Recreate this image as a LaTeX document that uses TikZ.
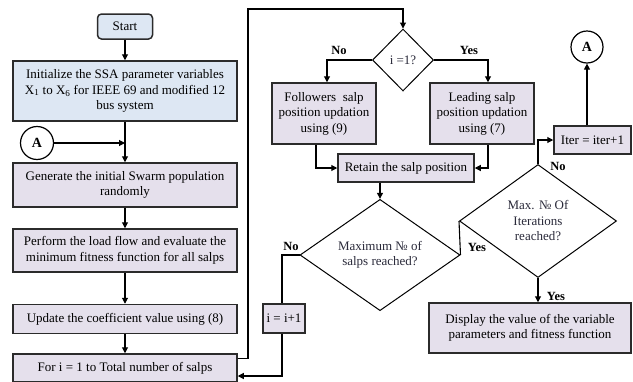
\documentclass[tikz,border=0pt]{standalone}
\usepackage{fontspec}
\setmainfont{Liberation Serif}
\usetikzlibrary{shapes.geometric,arrows.meta}
\definecolor{bluefill}{HTML}{DDE7F3}
\definecolor{lavfill}{HTML}{E5E0EC}
\definecolor{edge}{HTML}{2B2B2B}
\definecolor{diatext}{HTML}{2A2A3A}
\begin{document}
\begin{tikzpicture}[x=1pt,y=-1pt,
  font=\fontsize{13}{15.5}\selectfont,
  box/.style={draw=edge, line width=1.5pt, fill=lavfill, align=center, inner sep=0pt},
  bbox/.style={box, fill=bluefill},
  dia/.style={diamond, draw=black, line width=1pt, fill=white, align=center, inner sep=0pt, text=diatext},
  conn/.style={draw=black, line width=1.2pt, fill=white},
  arr/.style={line width=1.1pt, -{Triangle[length=6pt,width=6pt]}},
  ln/.style={line width=1.1pt},
  lbl/.style={font=\fontsize{12.5}{13}\selectfont\bfseries, inner sep=0pt}]
\useasboundingbox (0,0) rectangle (633,381);

% left column
\node[bbox, rounded corners=4pt, minimum width=55pt, minimum height=25pt] (start) at (125,26.5) {Start};
\node[bbox, minimum width=224pt, minimum height=60pt] (init) at (125,91)
  {Initialize the SSA parameter variables\\X\textsubscript{1} to X\textsubscript{6} for IEEE 69 and modified 12\\bus system};
\node[conn, circle, minimum size=33pt, inner sep=0pt, font=\fontsize{14}{15}\selectfont\bfseries] (aleft) at (37,143) {A};
\node[box, minimum width=224pt, minimum height=44pt] (gen) at (125,185)
  {Generate the initial Swarm population\\randomly};
\node[box, minimum width=224pt, minimum height=43pt] (perf) at (125,250.5)
  {Perform the load flow and evaluate the\\minimum fitness function for all salps};
\node[box, minimum width=224pt, minimum height=29pt] (upd) at (125,319)
  {Update the coefficient value using (8)};
\node[box, minimum width=224pt, minimum height=28pt] (for) at (125,368)
  {For i = 1 to Total number of salps};

\draw[arr] (start.south) -- (init.north);
\draw[arr] (init.south) -- (gen.north);
\draw[arr] (aleft.east) -- (125,143);
\draw[arr] (gen.south) -- (perf.north);
\draw[arr] (perf.south) -- (upd.north);
\draw[arr] (upd.south) -- (for.north);

% middle
\node[dia, minimum width=61pt, minimum height=62pt] (ione) at (403,60) {i =1?};
\node[box, minimum width=104pt, minimum height=61pt] (fol) at (324,113.5)
  {Followers\ \ salp\\position updation\\using (9)};
\node[box, minimum width=104pt, minimum height=61pt] (lead) at (482,113.5)
  {Leading salp\\position updation\\using (7)};
\node[box, minimum width=136pt, minimum height=28pt] (ret) at (406,168)
  {Retain the salp position};
\node[dia, minimum width=160pt, minimum height=98pt] (maxs) at (380,255)
  {Maximum № of\\salps reached?};
\node[box, minimum width=42pt, minimum height=29pt] (inc) at (284,318.5) {i = i+1};

\draw[arr] ([yshift=-5pt]for.north east) -| (248,9) -| (ione.north);
\draw[arr] (ione.west) -| (327,0 |- fol.north);
\draw[arr] (ione.east) -| (488,0 |- lead.north);
\draw[arr] (316,0 |- fol.south) |- (ret.west);
\draw[arr] (488,0 |- lead.south) |- (ret.east);
\draw[arr] (380,0 |- ret.south) -- (maxs.north);
\draw[ln] (maxs.west) -| (282,0 |- inc.north);
\draw[arr] (282,0 |- inc.south) |- (for.east |- 0,376);

\node[lbl] (lno1) at (339,50) {No};
\node[lbl] (lyes1) at (469,50) {Yes};
\node[lbl] (lno2) at (291,246) {No};

% right
\node[dia, minimum width=157pt, minimum height=113pt] (maxi) at (538,221)
  {Max. № Of\\Iterations\\reached?};
\node[box, minimum width=202pt, minimum height=50pt] (disp) at (530,328)
  {Display the value of the variable\\parameters and fitness function};
\node[box, minimum width=77pt, minimum height=28pt] (iter) at (592.5,140) {Iter = iter+1};
\node[conn, circle, minimum size=32pt, inner sep=0pt, font=\fontsize{14}{15}\selectfont\bfseries] (aright) at (587,47) {A};

\draw[ln] (maxs.east) -- (maxi.west);
\draw[arr] (maxi.south) -- (538,0 |- disp.north);
\draw[arr] (maxi.north) |- (iter.west);
\draw[arr] (587,0 |- iter.north) -- (aright.south);

\node[lbl] (lyes2) at (477,247) {Yes};
\node[lbl] (lyes3) at (556,296) {Yes};
\node[lbl] (lno3) at (558,166) {No};
\end{tikzpicture}
\end{document}
